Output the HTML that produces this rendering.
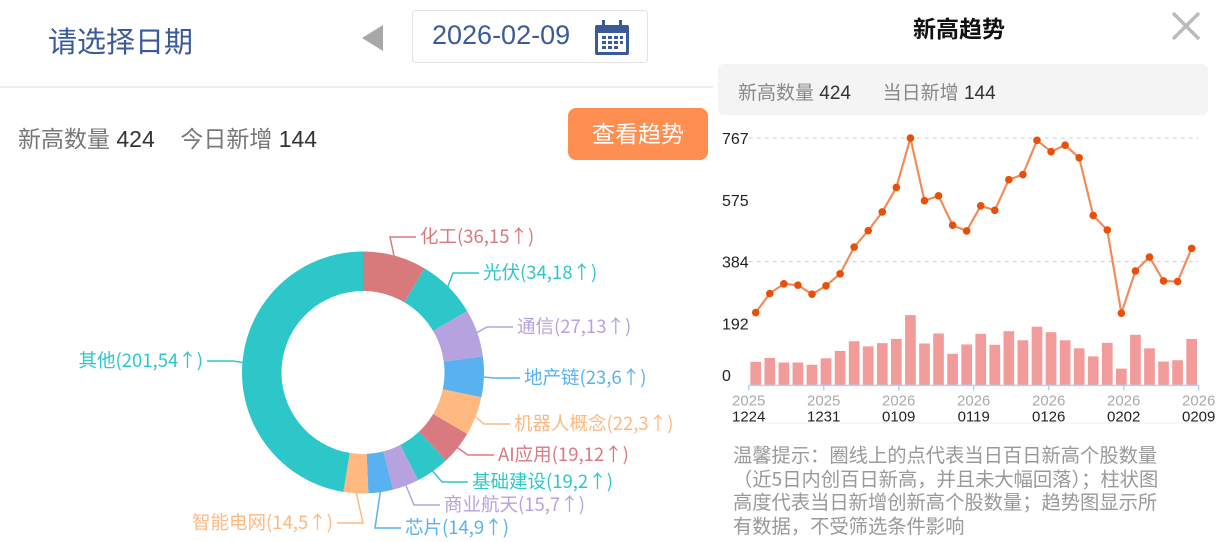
<!DOCTYPE html>
<html><head><meta charset="utf-8">
<style>
body{margin:0;width:1218px;height:542px;overflow:hidden;background:#fff;font-family:"Liberation Sans","Noto Sans CJK SC",sans-serif;position:relative}
.abs{position:absolute;white-space:nowrap}
#donut text{font-family:"Noto Sans CJK SC",sans-serif}
</style></head><body>
<div class="abs" style="left:48px;top:19px;font-size:29px;color:#3a5a9a">请选择日期</div>
<div class="abs" style="left:362px;top:25px;width:0;height:0;border-top:13px solid transparent;border-bottom:13px solid transparent;border-right:21px solid #a8a8a8"></div>
<div class="abs" style="left:412px;top:10px;width:236px;height:53px;border:1px solid #e2e2e2;border-radius:4px;box-sizing:border-box">
 <span class="abs" style="left:19px;top:9px;font-size:27px;color:#3a5a9a">2026-02-09</span>
 <svg class="abs" style="left:180px;top:8px" width="38" height="38" viewBox="0 0 38 38"><rect x="2" y="6" width="34" height="30" rx="2" fill="#3a5a9a"/><rect x="5" y="14" width="28" height="19" fill="#fff"/><rect x="9" y="1" width="3" height="9" fill="#3a5a9a"/><rect x="26" y="1" width="3" height="9" fill="#3a5a9a"/><g fill="#3a5a9a"><rect x="9" y="17" width="4" height="3"/><rect x="15" y="17" width="4" height="3"/><rect x="21" y="17" width="4" height="3"/><rect x="27" y="17" width="3" height="3"/><rect x="9" y="22" width="4" height="3"/><rect x="15" y="22" width="4" height="3"/><rect x="21" y="22" width="4" height="3"/><rect x="27" y="22" width="3" height="3"/><rect x="9" y="27" width="4" height="3"/><rect x="15" y="27" width="4" height="3"/><rect x="21" y="27" width="4" height="3"/></g></svg>
</div>
<div class="abs" style="left:0;top:86px;width:713px;height:2px;background:#eee"></div>
<div class="abs" style="left:18px;top:120px;font-size:23px;color:#777">新高数量 <span style="color:#333">424</span>&nbsp;&nbsp;&nbsp; 今日新增 <span style="color:#333">144</span></div>
<div class="abs" style="left:568px;top:108px;width:140px;height:52px;background:#ff8f50;border-radius:8px;color:#fff;font-size:23px;text-align:center;line-height:52px">查看趋势</div>

<svg class="abs" style="left:0;top:180px" width="713" height="362" id="donut"></svg>

<div class="abs" style="left:913px;top:10px;font-size:23px;font-weight:bold;color:#111">新高趋势</div>
<div class="abs" style="left:1170px;top:10px;width:32px;height:32px">
<svg width="32" height="32"><path d="M3 3L29 29M29 3L3 29" stroke="#bbb" stroke-width="3.5"/></svg></div>
<div class="abs" style="left:718px;top:64px;width:490px;height:51px;background:#f4f4f4;border-radius:6px">
 <span class="abs" style="left:20px;top:14px;font-size:19px;color:#888">新高数量 <span style="color:#333">424</span>&nbsp;&nbsp;&nbsp;&nbsp;&nbsp; 当日新增 <span style="color:#333">144</span></span>
</div>
<svg class="abs" style="left:713px;top:120px" width="505" height="310" id="trend"></svg>
<div class="abs" style="left:733px;top:443px;font-size:19.3px;line-height:23.5px;color:#999;font-family:'Noto Sans CJK SC',sans-serif">温馨提示：圈线上的点代表当日百日新高个股数量<br>（近5日内创百日新高，并且未大幅回落）；柱状图<br>高度代表当日新增创新高个股数量；趋势图显示所<br>有数据，不受筛选条件影响</div>

<script>
const NS='http://www.w3.org/2000/svg';
function mk(p,t,a){const e=document.createElementNS(NS,t);for(const k in a)e.setAttribute(k,a[k]);p.appendChild(e);return e;}
// ---- donut data ----
const sectorNames=['化工','光伏','通信','地产链','机器人概念','AI应用','基础建设','商业航天','芯片','智能电网','其他'];
const sectorCounts=[36,34,27,23,22,19,19,15,14,14,201];
const sectorNew=[15,18,13,6,3,12,2,7,9,5,54];
const sectorColors=['#d87a7c','#2ec7c9','#b6a2de','#5ab1ef','#ffb980','#d87a80','#2ec7c9','#b6a2de','#5ab1ef','#ffb980','#2ec7c9'];
// label layout (pixel positions, not data): text anchor x,y and alignment
const labelPos=[[420,57,'s'],[483,93,'s'],[517,147,'s'],[524,198,'s'],[514,244,'s'],[498,275,'s'],[472,302,'s'],[444,325,'s'],[405,348,'s'],[333,343,'e'],[203,181,'e']];
const dn=document.getElementById('donut');
const cx=363,cy=192.5,R=121,r=81.5;
const total=sectorCounts.reduce((a,b)=>a+b,0);
let acc=0;
function pt(a,rad){return [cx+rad*Math.sin(a),cy-rad*Math.cos(a)];}
sectorCounts.forEach((v,i)=>{
  const a0=acc/total*2*Math.PI;acc+=v;const a1=acc/total*2*Math.PI;
  const large=a1-a0>Math.PI?1:0;
  const [x0,y0]=pt(a0,R),[x1,y1]=pt(a1,R),[x2,y2]=pt(a1,r),[x3,y3]=pt(a0,r);
  const s=mk(dn,'path',{d:`M${x0} ${y0}A${R} ${R} 0 ${large} 1 ${x1} ${y1}L${x2} ${y2}A${r} ${r} 0 ${large} 0 ${x3} ${y3}Z`,fill:sectorColors[i]});
  
  
  const am=(a0+a1)/2;const [sx,sy]=pt(am,R-2);
  const [lx,ly,al]=labelPos[i];
  const ex=al==='s'?lx-22:lx+22;
  const l=mk(dn,'polyline',{points:`${sx},${sy} ${al==='s'?ex-8:ex+8},${ly} ${al==='s'?lx-4:lx+4},${ly}`,fill:'none',stroke:sectorColors[i],'stroke-width':1.5});
  
  
  const t=mk(dn,'text',{x:lx,y:ly+6,'font-size':18.5,fill:sectorColors[i],'text-anchor':al==='s'?'start':'end'});
  t.textContent=sectorNames[i]+'('+v+','+sectorNew[i]+'↑)';
  
  
});
// ---- trend data ----
const highCounts=[226,285,315,311,283,309,346,429,480,538,614,767,573,588,497,479,557,543,638,654,760,725,745,706,527,482,224,355,398,324,322,425];
const newCounts=[73,85,71,71,64,84,107,137,121,131,144,218,130,161,98,127,160,126,168,140,182,165,140,115,90,132,52,157,115,74,78,144];
const yTicks=[767,575,384,192,0];
const xYears=['2025','2025','2026','2026','2026','2026','2026'];
const xDates=['1224','1231','0109','0119','0126','0202','0209'];
const tr=document.getElementById('trend');
const L=35.7,W=450,base=265.4,maxV=767,plotH=247.3;
const n=highCounts.length,bw=W/n;
const X=i=>L+bw*(i+0.5), Y=v=>base-v/maxV*plotH;
[767,384].forEach(v=>{const g=mk(tr,'line',{x1:L,x2:L+W,y1:Y(v),y2:Y(v),stroke:'#ccc','stroke-dasharray':'4,4'});});
yTicks.forEach(v=>{const yy=v===0?Math.min(Y(v),255):Y(v);const t=mk(tr,'text',{x:9,y:yy+6,'font-size':16,fill:'#222'});t.textContent=v;});
newCounts.forEach((v,i)=>{const b=mk(tr,'rect',{x:X(i)-bw*0.38,width:bw*0.76,y:Y(v),height:base-Y(v),fill:'#f29b9b'});});
const ax=mk(tr,'line',{x1:L,x2:L+W,y1:base,y2:base,stroke:'#aed4f5','stroke-width':1.5});
xDates.forEach((d,k)=>{const xx=L+W*k/(xDates.length-1);
 const tk=mk(tr,'line',{x1:xx,x2:xx,y1:base,y2:base+5,stroke:'#aed4f5','stroke-width':1.5});
 const a=mk(tr,'text',{x:xx,y:base+20,'font-size':15,fill:'#aaa','text-anchor':'middle'});a.textContent=xYears[k];
 const b=mk(tr,'text',{x:xx,y:base+36,'font-size':15,fill:'#222','text-anchor':'middle'});b.textContent=d;});
const ln=mk(tr,'polyline',{points:highCounts.map((v,i)=>X(i)+','+Y(v)).join(' '),fill:'none',stroke:'#f08c5a','stroke-width':2.2});


highCounts.forEach((v,i)=>{const c=mk(tr,'circle',{cx:X(i),cy:Y(v),r:3.8,fill:'#e8500a'});});
const bl=mk(tr,'line',{x1:20,x2:495,y1:303,y2:303,stroke:'#eee'});
</script>
</body></html>
